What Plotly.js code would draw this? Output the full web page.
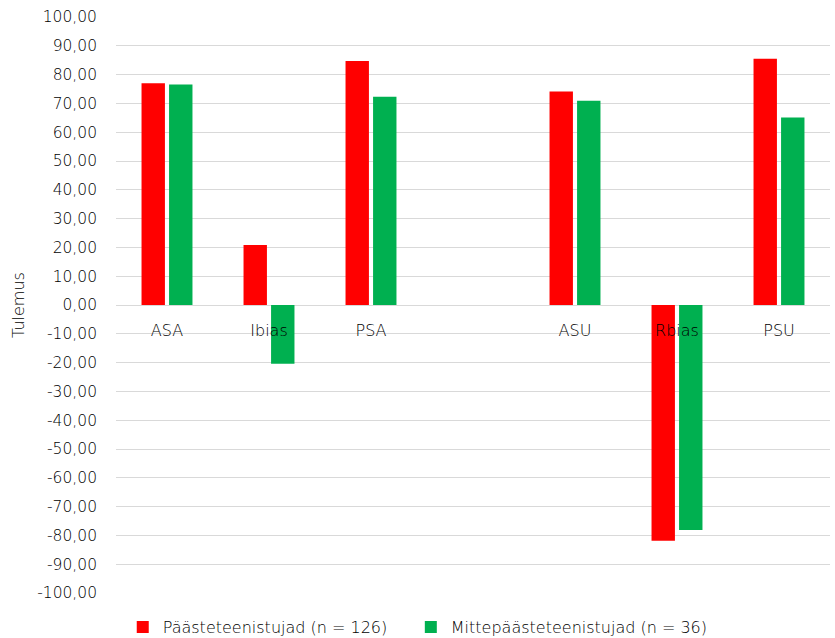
<!DOCTYPE html>
<html>
<head>
<meta charset="utf-8">
<script src="https://cdn.plot.ly/plotly-3.0.1.min.js"></script>
<style>html,body{margin:0;padding:0;background:#fff;}#chart{width:835px;height:638px;}</style>
</head>
<body>
<div id="chart"></div>
<script>
const categories = ['ASA', 'Ibias', 'PSA', ' ', 'ASU', 'Rbias', 'PSU'];
const seriesNames = ['Päästeteenistujad (n = 126)', 'Mittepäästeteenistujad (n = 36)'];
const rescueValues = [77.0, 20.8, 84.7, null, 74.1, -81.9, 85.5];
const nonRescueValues = [76.6, -20.4, 72.3, null, 70.9, -78.1, 65.1];
const yTickVals = [100, 90, 80, 70, 60, 50, 40, 30, 20, 10, 0, -10, -20, -30, -40, -50, -60, -70, -80, -90, -100];
const yTickText = ['100,00', '90,00', '80,00', '70,00', '60,00', '50,00', '40,00', '30,00', '20,00', '10,00', '0,00',
  '-10,00', '-20,00', '-30,00', '-40,00', '-50,00', '-60,00', '-70,00', '-80,00', '-90,00', '-100,00'];
const yTitle = 'Tulemus';

const FONT = '"DejaVu Sans", sans-serif';
const W = 200;
const TXT = '#000000';
const traces = [
  {type: 'bar', name: seriesNames[0], x: categories, y: rescueValues, legend: 'legend',
   marker: {color: '#FF0000', line: {width: 0}}, hoverinfo: 'skip'},
  {type: 'bar', name: seriesNames[1], x: categories, y: nonRescueValues, legend: 'legend2',
   marker: {color: '#00B050', line: {width: 0}}, hoverinfo: 'skip'}
];
const legendBase = {orientation: 'h', xref: 'container', xanchor: 'left', y: 0.017, yref: 'container', yanchor: 'middle',
  font: {family: FONT, size: 16, color: TXT, weight: W}, itemwidth: 30, bgcolor: 'rgba(0,0,0,0)'};
const layout = {
  width: 835, height: 638,
  margin: {l: 116, r: 5, t: 17, b: 45},
  paper_bgcolor: '#ffffff', plot_bgcolor: '#ffffff',
  font: {family: FONT, size: 16, color: TXT, weight: W},
  barmode: 'group', bargap: 0.46, bargroupgap: 0.15,
  showlegend: true,
  legend: Object.assign({}, legendBase, {x: 0.147}),
  legend2: Object.assign({}, legendBase, {x: 0.492}),
  xaxis: {type: 'category', categoryorder: 'array', categoryarray: categories,
    anchor: 'free', position: 0.5, showgrid: false, showline: false, zeroline: false,
    ticks: '', tickfont: {family: FONT, size: 16, color: TXT, weight: W}, ticklabelstandoff: 14},
  yaxis: {range: [-100, 100], tickvals: yTickVals, ticktext: yTickText,
    showgrid: true, gridcolor: '#d9d9d9', gridwidth: 1, zeroline: true, zerolinecolor: '#d9d9d9', zerolinewidth: 1,
    showline: false, ticks: '', ticklabelstandoff: 18,
    tickfont: {family: FONT, size: 15.5, color: TXT, weight: W},
    title: {text: yTitle, font: {family: FONT, size: 16, color: TXT, weight: W}, standoff: 8}}
};
Plotly.newPlot('chart', traces, layout, {displayModeBar: false, staticPlot: true});
</script>
</body>
</html>
